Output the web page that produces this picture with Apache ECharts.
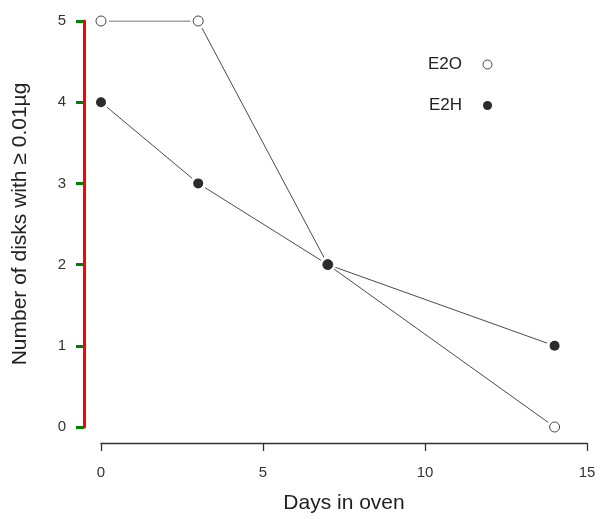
<!DOCTYPE html>
<html><head><meta charset="utf-8">
<script src="https://cdn.jsdelivr.net/npm/echarts@6/dist/echarts.min.js"></script>
<style>html,body{margin:0;padding:0;background:#fff}#c{width:600px;height:519px}</style>
</head><body><div id="c"></div>
<script>
const days = [0, 3, 7, 14];
const e2o = [5, 5, 2, 0];
const e2h = [4, 3, 2, 1];
const xTicks = [0, 5, 10, 15];
const yTicks = [0, 1, 2, 3, 4, 5];

const font = '"Liberation Sans", Arial, Helvetica, sans-serif';
const chart = echarts.init(document.getElementById('c'), null, {renderer: 'canvas'});
const pair = (xs, ys) => xs.map((x, i) => [x, ys[i]]);
const axisCol = '#333';
const hidden = {show: false};
chart.setOption({
  animation: false,
  backgroundColor: '#fff',
  grid: {left: 101, right: 13, top: 21, bottom: 91},
  legend: {
    orient: 'vertical', left: 428, top: 56, align: 'right', itemGap: 24, padding: 0,
    itemWidth: 9, itemHeight: 9,
    textStyle: {fontFamily: font, fontSize: 17, color: '#222', padding: [0, 16, 0, 0]},
    data: [
      {name: 'E2O', icon: 'circle', itemStyle: {color: '#fff', borderColor: '#444', borderWidth: 1}},
      {name: 'E2H', icon: 'circle', itemStyle: {color: '#2b2b2b', borderWidth: 0}}
    ]
  },
  xAxis: {
    type: 'value', min: 0, max: 15, interval: 5, position: 'bottom', offset: 16,
    name: 'Days in oven', nameLocation: 'middle', nameGap: 50,
    nameTextStyle: {fontFamily: font, fontSize: 21, color: '#222'},
    axisLine: {show: true, onZero: false, lineStyle: {color: axisCol, width: 1.3}},
    axisTick: {show: true, length: 8, lineStyle: {color: axisCol, width: 1.3}},
    axisLabel: {fontFamily: font, fontSize: 15, color: '#333', margin: 22,
      formatter: v => xTicks.includes(v) ? String(v) : ''},
    splitLine: hidden
  },
  yAxis: [
    {type: 'value', min: 0, max: 5, interval: 1, position: 'left', offset: 17,
      axisLine: {show: true, onZero: false, lineStyle: {color: 'red', width: 3}},
      axisTick: {show: true, length: 8, lineStyle: {color: 'green', width: 3}},
      axisLabel: {fontFamily: font, fontSize: 15, color: '#333', margin: 18,
        formatter: v => yTicks.includes(v) ? String(v) : ''},
      splitLine: hidden},
    {type: 'value', min: 0, max: 5, interval: 1, position: 'left', offset: 17,
      name: 'Number of disks with \u2265 0.01\u00b5g', nameLocation: 'middle', nameGap: 53,
      nameTextStyle: {fontFamily: font, fontSize: 21, color: '#222'},
      axisLine: {show: false, onZero: false}, axisTick: hidden, axisLabel: hidden,
      splitLine: hidden}
  ],
  series: [
    {name: 'lineE2O', type: 'line', data: pair(days, e2o), symbol: 'none',
      lineStyle: {color: '#4a4a4a', width: 1}, z: 2, silent: true},
    {name: 'lineE2H', type: 'line', data: pair(days, e2h), symbol: 'none',
      lineStyle: {color: '#4a4a4a', width: 1}, z: 2, silent: true},
    {name: 'haloE2O', type: 'scatter', data: pair(days, e2o), symbolSize: 16,
      itemStyle: {color: '#fff', opacity: 1}, z: 3, silent: true},
    {name: 'haloE2H', type: 'scatter', data: pair(days, e2h), symbolSize: 16,
      itemStyle: {color: '#fff', opacity: 1}, z: 3, silent: true},
    {name: 'E2O', type: 'scatter', data: pair(days, e2o), symbol: 'circle', symbolSize: 10,
      itemStyle: {color: '#fff', borderColor: '#444', borderWidth: 1, opacity: 1}, z: 4},
    {name: 'E2H', type: 'scatter', data: pair(days, e2h), symbol: 'circle', symbolSize: 10,
      itemStyle: {color: '#2b2b2b', opacity: 1}, z: 5}
  ]
});
</script></body></html>
